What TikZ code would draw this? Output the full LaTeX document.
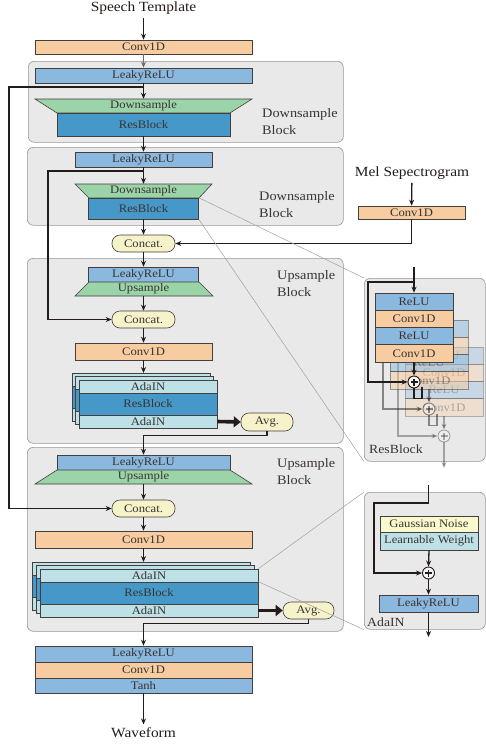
\documentclass[tikz,border=0pt]{standalone}
\usepackage{fontspec}
\setmainfont{Liberation Serif}[FakeStretch=1.1]
\usepackage{tikz}
\usetikzlibrary{arrows.meta,calc,positioning}
\definecolor{tinta}{RGB}{35,28,26}
\definecolor{gris}{RGB}{160,160,160}
\definecolor{grisFondo}{RGB}{233,233,233}
\definecolor{grisBorde}{RGB}{150,150,150}
\definecolor{naranja}{RGB}{246,204,160}
\definecolor{azulClaro}{RGB}{138,184,222}
\definecolor{azulOscuro}{RGB}{70,152,201}
\definecolor{verde}{RGB}{155,212,168}
\definecolor{celeste}{RGB}{190,225,232}
\definecolor{crema}{RGB}{246,242,202}
\definecolor{amarillo}{RGB}{250,248,205}
\tikzstyle{flecha}=[draw=tinta, line width=1.3pt,
                    -{Stealth[length=6pt,width=5pt]}]
\tikzstyle{linea}=[draw=tinta, line width=1.3pt]
\tikzstyle{gruesa}=[draw=tinta, line width=3.6pt,
                    -{Triangle[length=7pt,width=11pt]}]
\tikzstyle{guia}=[draw=gris, line width=0.5pt]
\tikzstyle{caja}=[rectangle, draw=tinta!85, line width=0.6pt,
                  inner sep=0pt, text=tinta!90,
                  font=\fontsize{11.5}{12}\selectfont]
\tikzstyle{conv}=[caja, fill=naranja]
\tikzstyle{relu}=[caja, fill=azulClaro]
\tikzstyle{resb}=[caja, fill=azulOscuro]
\tikzstyle{ada}=[caja, fill=celeste]
\tikzstyle{pildora}=[caja, fill=crema, rounded corners=8pt]
\tikzstyle{trapecio}=[draw=tinta!85, line width=0.6pt, fill=verde]
\tikzstyle{rotulo}=[inner sep=0pt, text=tinta!90, minimum height=14pt,
                    font=\fontsize{11.5}{12}\selectfont]
\tikzstyle{bloque}=[draw=grisBorde, fill=grisFondo, line width=0.6pt,
                    rounded corners=6pt, inner sep=0pt, anchor=north west]
\tikzstyle{titulo}=[text=tinta, font=\fontsize{14}{16}\selectfont]
\tikzstyle{etiq}=[text=tinta!90, inner sep=0pt, anchor=west, align=left,
                  font=\fontsize{13}{17}\selectfont]
\tikzstyle{etiqp}=[text=tinta!90, inner sep=0pt, anchor=west,
                   font=\fontsize{12.5}{14}\selectfont]
\tikzstyle{suma}=[circle, draw=tinta, line width=0.9pt, inner sep=0pt,
                  minimum size=12pt, fill=grisFondo!40!white,
                  path picture={
                    \draw[tinta,line width=1.1pt]
                      ([xshift=-3.5pt]path picture bounding box.center) --
                      ([xshift=3.5pt]path picture bounding box.center);
                    \draw[tinta,line width=1.1pt]
                      ([yshift=-3.5pt]path picture bounding box.center) --
                      ([yshift=3.5pt]path picture bounding box.center);}]

\begin{document}
\begin{tikzpicture}[x=1pt,y=-1pt]
    \useasboundingbox (0,0) rectangle (486,744);

    % bloques de fondo
    \draw (28,61) node(b1)[bloque,minimum width=315pt,minimum height=81pt]{};
    \draw (27,147) node(b2)[bloque,minimum width=316pt,minimum height=78pt]{};
    \draw (27,258) node(b3)[bloque,minimum width=316pt,minimum height=185pt]{};
    \draw (27,447) node(b4)[bloque,minimum width=316pt,minimum height=184pt]{};
    \draw (364,278) node(panelRes)[bloque,minimum width=121pt,minimum height=183pt]{};
    \draw (364,492) node(panelAda)[bloque,minimum width=121pt,minimum height=137pt]{};

    % entrada
    \draw (143.5,8) node(speech)[titulo]{Speech Template};
    \draw (143.5,47) node(cin)[conv,minimum width=217pt,minimum height=14pt]{Conv1D};

    % downsample 1
    \draw (143.5,75.5) node(lr1)[relu,minimum width=217pt,minimum height=15pt]{LeakyReLU};
    \draw[trapecio] (35,99) -- (252,99) -- (230,113) -- (57,113) -- cycle;
    \draw (143.5,106) node(ds1)[rotulo,minimum width=173pt]{Downsample};
    \draw (143.5,124.5) node(res1)[resb,minimum width=173pt,minimum height=23pt]{ResBlock};
    \draw (262,121.5) node(l1)[etiq]{Downsample\\Block};

    % downsample 2
    \draw (143.5,159.5) node(lr2)[relu,minimum width=137pt,minimum height=15pt]{LeakyReLU};
    \draw[trapecio] (75,184) -- (212,184) -- (199,198) -- (89,198) -- cycle;
    \draw (143.5,191) node(ds2)[rotulo,minimum width=110pt]{Downsample};
    \draw (143.5,208.5) node(res2)[resb,minimum width=110pt,minimum height=21pt]{ResBlock};
    \draw (259,205) node(l2)[etiq]{Downsample\\Block};

    % mel
    \draw (412,173) node(mel)[titulo]{Mel Sepectrogram};
    \draw (411.5,212.5) node(mconv)[conv,minimum width=107pt,minimum height=13pt]{Conv1D};
    \draw (143.5,243.5) node(cat1)[pildora,minimum width=63pt,minimum height=17pt]{Concat.};

    % upsample 1
    \draw (143.5,274.5) node(lr3)[relu,minimum width=110pt,minimum height=15pt]{LeakyReLU};
    \draw[trapecio] (89,282) -- (199,282) -- (213,296) -- (75,296) -- cycle;
    \draw (143.5,289) node(us1)[rotulo,minimum width=110pt]{Upsample};
    \draw (277,284) node(l3)[etiq]{Upsample\\Block};
    \draw (143.5,319.5) node(cat2)[pildora,minimum width=63pt,minimum height=17pt]{Concat.};
    \draw (143.5,351.5) node(conv3)[conv,minimum width=137pt,minimum height=17pt]{Conv1D};
    \foreach \d [count=\k] in {7,3.5}{
        \draw ({148-\d},{386.5-\d}) node(ua\k)[ada,minimum width=138pt,minimum height=13pt]{};
        \draw ({148-\d},{404-\d}) node(ur\k)[resb,minimum width=138pt,minimum height=22pt]{};
        \draw ({148-\d},{421.5-\d}) node(ub\k)[ada,minimum width=138pt,minimum height=13pt]{};
    }
    \draw (148,386.5) node(fa1)[ada,minimum width=138pt,minimum height=13pt]{AdaIN};
    \draw (148,404) node(fr1)[resb,minimum width=138pt,minimum height=22pt]{ResBlock};
    \draw (148,421.5) node(fb1)[ada,minimum width=138pt,minimum height=13pt]{AdaIN};
    \draw (267,422) node(avg1)[pildora,minimum width=52pt,minimum height=18pt]{Avg.};

    % upsample 2
    \draw (143.5,462.5) node(lr4)[relu,minimum width=173pt,minimum height=15pt]{LeakyReLU};
    \draw[trapecio] (57,470) -- (230,470) -- (252,484) -- (35,484) -- cycle;
    \draw (143.5,477) node(us2)[rotulo,minimum width=173pt]{Upsample};
    \draw (277,471.5) node(l4)[etiq]{Upsample\\Block};
    \draw (143.5,508.5) node(cat3)[pildora,minimum width=63pt,minimum height=17pt]{Concat.};
    \draw (143.5,539.5) node(conv4)[conv,minimum width=217pt,minimum height=17pt]{Conv1D};
    \foreach \dx/\dy [count=\k] in {8/7,4/3.5}{
        \draw ({149-\dx},{575.5-\dy}) node(va\k)[ada,minimum width=218pt,minimum height=13pt]{};
        \draw ({149-\dx},{593-\dy}) node(vr\k)[resb,minimum width=218pt,minimum height=22pt]{};
        \draw ({149-\dx},{610.5-\dy}) node(vb\k)[ada,minimum width=218pt,minimum height=13pt]{};
    }
    \draw (149,575.5) node(fa2)[ada,minimum width=218pt,minimum height=13pt]{AdaIN};
    \draw (149,593) node(fr2)[resb,minimum width=218pt,minimum height=22pt]{ResBlock};
    \draw (149,610.5) node(fb2)[ada,minimum width=218pt,minimum height=13pt]{AdaIN};
    \draw (308.5,610.5) node(avg2)[pildora,minimum width=51pt,minimum height=17pt]{Avg.};

    % salida
    \draw (143.5,654) node(olr)[relu,minimum width=217pt,minimum height=16pt]{LeakyReLU};
    \draw (143.5,670) node(oconv)[conv,minimum width=217pt,minimum height=16pt]{Conv1D};
    \draw (143.5,685.5) node(otanh)[relu,minimum width=217pt,minimum height=15pt]{Tanh};
    \draw (143.5,733) node(wave)[titulo]{Waveform};

    % conexiones
    \coordinate (e1) at (143.5,373);
    \coordinate (e2) at (143.5,562);
    \coordinate (sk1) at (143.5,87);
    \coordinate (sk2) at (143.5,171);
    \draw[flecha,line width=0.8pt,draw=gris!60!tinta] (cin) -- (lr1);
    \foreach \i/\j in {speech/cin,lr1/ds1,res1/lr2,lr2/ds2,res2/cat1,cat1/lr3,
        us1/cat2,cat2/conv3,conv3/e1,us2/cat3,cat3/conv4,conv4/e2,otanh/wave,mel/mconv}
        \draw[flecha] (\i) -- (\j);
    \draw[flecha] (sk1) -- (9,87) |- (cat3.west);
    \draw[flecha] (sk2) -- (48,171) |- (cat2.west);
    \draw[flecha] (mconv.south) |- (cat1.east);
    \draw[gruesa] (fb1.east) -- (avg1.west);
    \draw[gruesa] (fb2.east) -- (avg2.west);
    \draw[flecha] (avg1.south) -- ++(0,4) -| (lr4.north);
    \draw[flecha] (avg2.south) -- ++(0,4) -| (olr.north);

    % guias hacia los detalles
    \draw[guia] (res2.north east) -- (panelRes.north west);
    \draw[guia] (res2.south east) -- (panelRes.south west);
    \draw[guia] (fa2.north east) -- (panelAda.north west);
    \draw[guia] (fr2.north east) -- (panelAda.south west);

    % detalle ResBlock
    \foreach \i/\op in {2/0.35,1/0.5,0/1}{
        \begin{scope}[opacity=\op]
            \draw ({414+15*\i},{301.625+27*\i}) node(ra\i)[relu,minimum width=78pt,minimum height=17.25pt]{ReLU};
            \draw ({414+15*\i},{318.875+27*\i}) node(ca\i)[conv,minimum width=78pt,minimum height=17.25pt]{Conv1D};
            \draw ({414+15*\i},{336.125+27*\i}) node(rc\i)[relu,minimum width=78pt,minimum height=17.25pt]{ReLU};
            \draw ({414+15*\i},{353.375+27*\i}) node(cc\i)[conv,minimum width=78pt,minimum height=17.25pt]{Conv1D};
            \draw ({414+15*\i},{382+27*\i}) node(sm\i)[suma]{};
            \coordinate (in\i) at ({414+15*\i},{267+27*\i});
            \coordinate (kk\i) at ({414+15*\i},{282+27*\i});
            \draw[flecha] (in\i) -- (ra\i.north);
            \draw[flecha] (kk\i) -- ++(-46,0) |- (sm\i.west);
            \draw[flecha] (cc\i.south) -- (sm\i.north);
            \ifnum\i<2
                \draw[linea] (sm\i.south) -- ++(0,10) -- ++(8,0) -- ++(0,-11);
            \else
                \coordinate (rout) at ({414+15*\i},468);
                \draw[flecha] (sm\i.south) -- (rout);
            \fi
        \end{scope}
    }
    \draw (369,449) node(lres)[etiqp]{ResBlock};

    % detalle AdaIN
    \coordinate (ain) at (428.5,485);
    \coordinate (aout) at (428.5,637);
    \draw (429,524) node(gn)[caja,fill=amarillo,minimum width=98pt,minimum height=16pt]{Gaussian Noise};
    \draw (429,541) node(lw)[ada,minimum width=98pt,minimum height=18pt]{Learnable Weight};
    \draw (428.5,573) node(sa)[suma]{};
    \draw (428.5,603.5) node(alr)[relu,minimum width=99pt,minimum height=17pt]{LeakyReLU};
    \draw[flecha] (ain) -- (428.5,503) -- (374,503) |- (sa.west);
    \draw[flecha] (lw.south) -- (sa.north);
    \draw[flecha] (sa.south) -- (alr.north);
    \draw[flecha] (alr.south) -- (aout);
    \draw (367,622) node(lada)[etiqp]{AdaIN};
\end{tikzpicture}
\end{document}
